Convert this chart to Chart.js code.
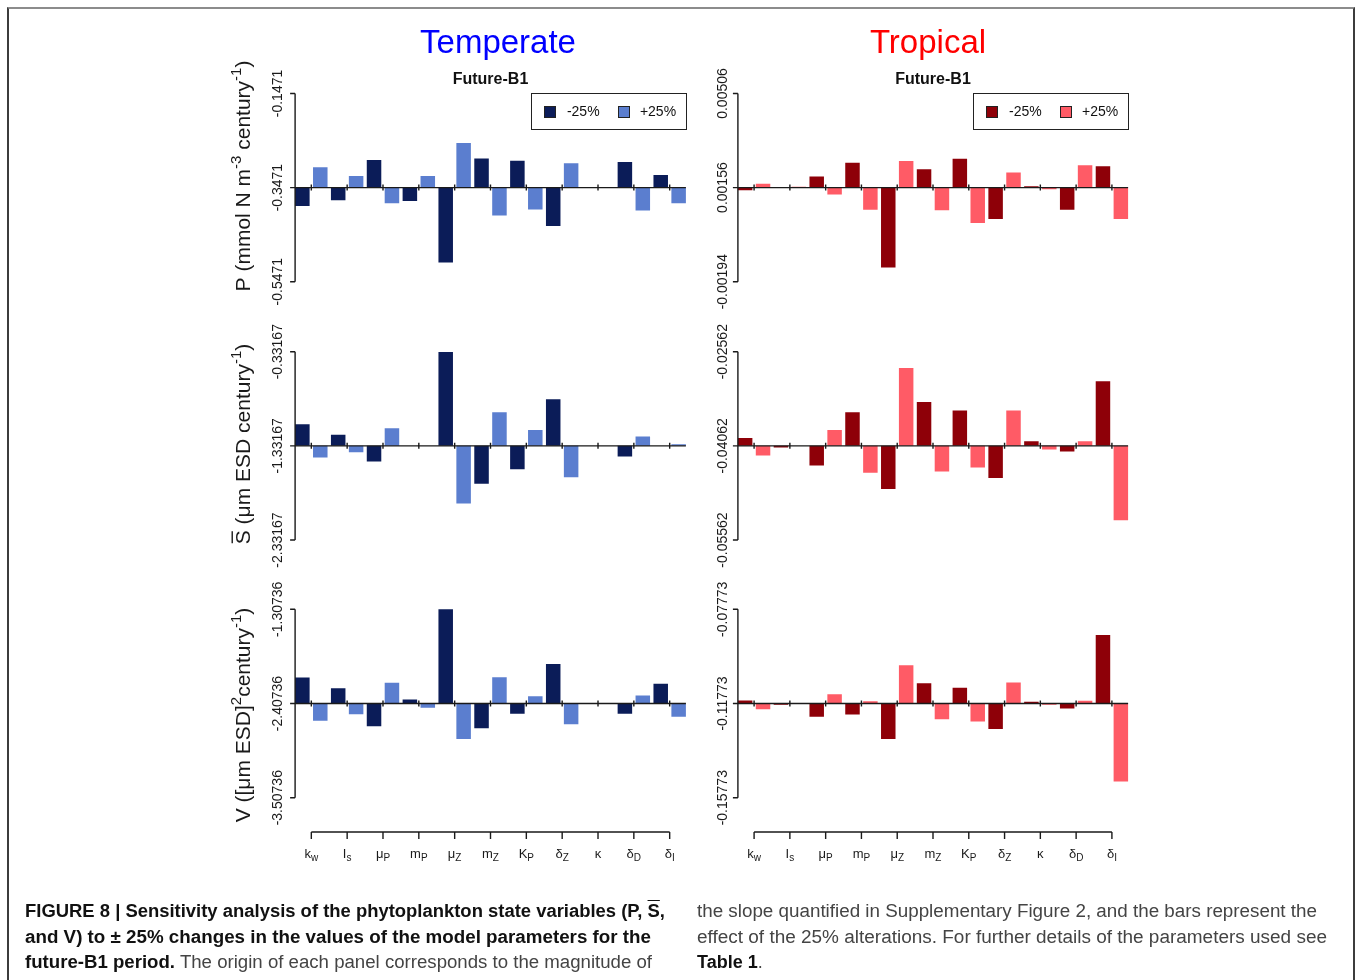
<!DOCTYPE html>
<html>
<head>
<meta charset="utf-8">
<script src="https://cdn.jsdelivr.net/npm/chart.js@4.4.1/dist/chart.umd.min.js"></script>
<style>
html,body{margin:0;padding:0;background:#fff;}
body{width:1357px;height:980px;position:relative;overflow:hidden;font-family:"Liberation Sans",Arial,sans-serif;}
#frame{position:absolute;left:7px;top:7px;width:1344px;height:1000px;border-top:2px solid #8c8c8c;border-left:2px solid #3c3c3c;border-right:2px solid #3c3c3c;}
canvas{position:absolute;left:0;top:0;}
.cap{position:absolute;white-space:nowrap;font-size:18px;line-height:22px;color:#444;transform-origin:0 0;}
.cap b{color:#111;font-family:"Liberation Sans Narrow","Liberation Sans",Arial,sans-serif;}
.ov{text-decoration:overline;}
</style>
</head>
<body>
<div id="frame"></div>
<canvas id="c_tl" width="1357" height="980"></canvas>
<canvas id="c_tr" width="1357" height="980"></canvas>
<canvas id="c_ml" width="1357" height="980"></canvas>
<canvas id="c_mr" width="1357" height="980"></canvas>
<canvas id="c_bl" width="1357" height="980"></canvas>
<canvas id="c_br" width="1357" height="980"></canvas>

<div class="cap" style="left:25px;top:900px" data-w="640"><b>FIGURE 8 | Sensitivity analysis of the phytoplankton state variables (P, <span class="ov">S</span>,</b></div>
<div class="cap" style="left:25px;top:926px" data-w="626"><b>and V) to ± 25% changes in the values of the model parameters for the</b></div>
<div class="cap" style="left:25px;top:951px" data-w="627"><b>future-B1 period.</b> The origin of each panel corresponds to the magnitude of</div>
<div class="cap" style="left:697px;top:900px" data-w="620">the slope quantified in Supplementary Figure 2, and the bars represent the</div>
<div class="cap" style="left:697px;top:926px" data-w="630">effect of the 25% alterations. For further details of the parameters used see</div>
<div class="cap" style="left:697px;top:951px"><b style="font-family:'Liberation Sans',Arial,sans-serif">Table 1</b>.</div>

<script>
// ---------------- data ----------------
const categories = ['kw','Is','μP','mP','μZ','mZ','KP','δZ','κ','δD','δI'];
const labelMain  = ['k','I','μ','m','μ','m','K','δ','κ','δ','δ'];
const labelSub   = ['w','s','P','P','Z','Z','P','Z','','D','I'];
const seriesNames = ['-25%','+25%'];

// Temperate P
const tempP_ticks = ['-0.5471','-0.3471','-0.1471'];
const tempP_minus = [-0.386, -0.374, -0.2883, -0.3754, -0.5063, -0.2855, -0.2898, -0.4285, -0.3471, -0.2926, -0.3202];
const tempP_plus  = [-0.3039, -0.3223, -0.3804, -0.3223, -0.2522, -0.4065, -0.3938, -0.2954, -0.3471, -0.3959, -0.3804];

// Tropical P
const tropP_ticks = ['-0.00194','0.00156','0.00506'];
const tropP_minus = [0.00146, 0.00158, 0.00197, 0.00248, -0.00141, 0.00224, 0.00263, 0.00039, 0.00161, 0.00074, 0.00235];
const tropP_plus  = [0.0017, 0.00159, 0.0013, 0.00074, 0.00255, 0.00072, 0.00024, 0.00212, 0.0015, 0.00239, 0.00039];

// Temperate S
const tempS_ticks = ['-2.33167','-1.33167','-0.33167'];
const tempS_minus = [-1.102, -1.2151, -1.4978, -1.33167, -0.335, -1.7346, -1.5791, -0.8369, -1.33167, -1.4448, -1.33167];
const tempS_plus  = [-1.4554, -1.3988, -1.1444, -1.33167, -1.9431, -0.9747, -1.162, -1.6639, -1.33167, -1.2327, -1.314];

// Tropical S
const tropS_ticks = ['-0.05562','-0.04062','-0.02562'];
const tropS_minus = [-0.03935, -0.04089, -0.04375, -0.03527, -0.04751, -0.03362, -0.035, -0.04576, -0.03988, -0.04152, -0.03034];
const tropS_plus  = [-0.04216, -0.04062, -0.03808, -0.04491, -0.02822, -0.0447, -0.04407, -0.035, -0.0412, -0.03988, -0.05249];

// Temperate V
const tempV_ticks = ['-3.50736','-2.40736','-1.30736'];
const tempV_minus = [-2.1042, -2.2286, -2.6717, -2.3607, -1.2452, -2.695, -2.5279, -1.9448, -2.40736, -2.5279, -2.178];
const tempV_plus  = [-2.6095, -2.5318, -2.1664, -2.4579, -2.8233, -2.1003, -2.3219, -2.6484, -2.40736, -2.3141, -2.5629];

// Tropical V
const tropV_ticks = ['-0.15773','-0.11773','-0.07773'];
const tropV_minus = [-0.11646, -0.1183, -0.12338, -0.12239, -0.13285, -0.10911, -0.11109, -0.12861, -0.11702, -0.11985, -0.08861];
const tropV_plus  = [-0.12013, -0.11773, -0.11377, -0.11674, -0.10148, -0.12437, -0.12536, -0.10883, -0.1183, -0.1166, -0.1508];

// ---------------- styles / layout ----------------
const W = 1357, H = 980;
const BAR_PCT = 0.81;
const FONT = '"Liberation Sans", Arial, Helvetica, sans-serif';
const temperateColors = ['#0b1c58', '#5b7ecf'];
const tropicalColors  = ['#8e0008', '#ff5b66'];
const colLeft  = {l: 293.4, r: 687.6, labelOff: 13, titleX: 250, head: 'Temperate', headColor: '#0000ff', headX: 498};
const colRight = {l: 736.2, r: 1129.8, labelOff: 11, titleX: null, head: 'Tropical', headColor: '#ff0000', headX: 928};
const rowTop = {t: 93.5, b: 281.7, titleCY: 176};
const rowMid = {t: 351.7, b: 540, titleCY: 444};
const rowBot = {t: 609.3, b: 797.7, titleCY: 715};

const titleP = [{t:'P (mmol N m'},{t:'-3',sup:true},{t:' century'},{t:'-1',sup:true},{t:')'}];
const titleS = [{t:'S',over:true},{t:' (μm ESD century'},{t:'-1',sup:true},{t:')'}];
const titleV = [{t:'V ([μm ESD]'},{t:'2',sup:true},{t:'century'},{t:'-1',sup:true},{t:')'}];

function drawRich(ctx, parts, cx, cy, size) {
  ctx.save();
  ctx.translate(cx, cy);
  ctx.rotate(-Math.PI / 2);
  const fMain = size + 'px ' + FONT;
  const fSup = Math.round(size * 0.7) + 'px ' + FONT;
  let total = 0;
  parts.forEach(p => { ctx.font = p.sup ? fSup : fMain; p.w = ctx.measureText(p.t).width; total += p.w; });
  let xx = -total / 2;
  ctx.textAlign = 'left';
  ctx.textBaseline = 'alphabetic';
  parts.forEach(p => {
    ctx.font = p.sup ? fSup : fMain;
    ctx.fillText(p.t, xx, p.sup ? -size * 0.45 : 0);
    if (p.over) ctx.fillRect(xx + 1, -size * 0.88, p.w - 2, 1.4);
    xx += p.w;
  });
  ctx.restore();
}

function panelPlugin(cfg) {
  return {
    id: 'rpanel',
    afterDraw(chart) {
      const ctx = chart.ctx, ca = chart.chartArea;
      const x = chart.scales.x, y = chart.scales.y;
      const catW = (ca.right - ca.left) / categories.length;
      const slot = catW / 2, gap = slot * (1 - BAR_PCT);
      const axisX = ca.left + gap / 2, endX = ca.right - gap / 2;
      const tv = cfg.ticks.map(Number);
      ctx.save();
      ctx.strokeStyle = '#1a1a1a';
      ctx.fillStyle = '#1a1a1a';
      ctx.lineWidth = 1.4;
      // y axis
      ctx.beginPath();
      ctx.moveTo(axisX, y.getPixelForValue(tv[0]));
      ctx.lineTo(axisX, y.getPixelForValue(tv[2]));
      tv.forEach(v => { const py = y.getPixelForValue(v); ctx.moveTo(axisX - 5, py); ctx.lineTo(axisX, py); });
      ctx.stroke();
      ctx.font = '14px ' + FONT;
      ctx.textAlign = 'center';
      ctx.textBaseline = 'alphabetic';
      cfg.ticks.forEach((s, i) => {
        const py = y.getPixelForValue(tv[i]);
        ctx.save(); ctx.translate(axisX - cfg.col.labelOff, py); ctx.rotate(-Math.PI / 2);
        ctx.fillText(s, 0, 0); ctx.restore();
      });
      // origin line with ticks
      const y0 = y.getPixelForValue(tv[1]);
      ctx.beginPath();
      ctx.moveTo(axisX, y0); ctx.lineTo(endX, y0);
      categories.forEach((c, i) => { const px = x.getPixelForValue(i); ctx.moveTo(px, y0 - 3); ctx.lineTo(px, y0 + 3); });
      ctx.stroke();
      // y title
      if (cfg.col.titleX !== null && cfg.title) drawRich(ctx, cfg.title, cfg.col.titleX, cfg.row.titleCY, 21);
      // top row extras
      if (cfg.top) {
        ctx.textAlign = 'center';
        ctx.font = '33px ' + FONT;
        ctx.fillStyle = cfg.col.headColor;
        ctx.fillText(cfg.col.head, cfg.col.headX, 53);
        ctx.fillStyle = '#111';
        ctx.font = 'bold 16px ' + FONT;
        ctx.fillText('Future-B1', (axisX + endX) / 2, 84);
        // legend
        const bx = endX - 155, by = ca.top - 0.5, bw = 155, bh = 36;
        ctx.lineWidth = 1;
        ctx.strokeStyle = '#222';
        ctx.strokeRect(Math.round(bx) + 0.5, Math.round(by) + 0.5, bw, bh);
        const sx = [13, 87], tx = [36, 109];
        chart.data.datasets.forEach((ds, i) => {
          ctx.fillStyle = ds.backgroundColor;
          ctx.fillRect(Math.round(bx + sx[i]) + 0.5, Math.round(by + 13) + 0.5, 11, 11);
          ctx.strokeRect(Math.round(bx + sx[i]) + 0.5, Math.round(by + 13) + 0.5, 11, 11);
          ctx.fillStyle = '#111';
          ctx.font = '14px ' + FONT;
          ctx.textAlign = 'left';
          ctx.textBaseline = 'middle';
          ctx.fillText(ds.label, bx + tx[i], by + 19);
        });
        ctx.textBaseline = 'alphabetic';
      }
      // bottom x axis
      if (cfg.bottom) {
        const ay = 832;
        ctx.strokeStyle = '#1a1a1a'; ctx.lineWidth = 1.4;
        ctx.beginPath();
        ctx.moveTo(x.getPixelForValue(0), ay); ctx.lineTo(x.getPixelForValue(categories.length - 1), ay);
        categories.forEach((c, i) => { const px = x.getPixelForValue(i); ctx.moveTo(px, ay); ctx.lineTo(px, ay + 7); });
        ctx.stroke();
        ctx.fillStyle = '#1a1a1a';
        ctx.textAlign = 'left';
        categories.forEach((c, i) => {
          const px = x.getPixelForValue(i);
          ctx.font = '13px ' + FONT; const w1 = ctx.measureText(labelMain[i]).width;
          ctx.font = '10px ' + FONT; const w2 = ctx.measureText(labelSub[i]).width;
          const sx0 = px - (w1 + w2) / 2;
          ctx.font = '13px ' + FONT; ctx.fillText(labelMain[i], sx0, 858);
          ctx.font = '10px ' + FONT; ctx.fillText(labelSub[i], sx0 + w1, 861);
        });
      }
      ctx.restore();
    }
  };
}

function makePanel(id, col, row, ticks, minus, plus, colors, title, top, bottom) {
  const base = Number(ticks[1]);
  new Chart(document.getElementById(id), {
    type: 'bar',
    data: {
      labels: categories,
      datasets: [
        {label: seriesNames[0], data: minus, backgroundColor: colors[0], base: base, barPercentage: BAR_PCT, categoryPercentage: 1, borderWidth: 0},
        {label: seriesNames[1], data: plus, backgroundColor: colors[1], base: base, barPercentage: BAR_PCT, categoryPercentage: 1, borderWidth: 0}
      ]
    },
    options: {
      responsive: false,
      animation: false,
      events: [],
      layout: {padding: {left: col.l, right: W - col.r, top: row.t, bottom: H - row.b}},
      plugins: {legend: {display: false}, tooltip: {enabled: false}, title: {display: false}},
      scales: {
        x: {type: 'category', display: false, offset: true},
        y: {type: 'linear', display: false, min: Number(ticks[0]), max: Number(ticks[2])}
      }
    },
    plugins: [panelPlugin({col, row, ticks, title, top, bottom})]
  });
}

makePanel('c_tl', colLeft,  rowTop, tempP_ticks, tempP_minus, tempP_plus, temperateColors, titleP, true, false);
makePanel('c_tr', colRight, rowTop, tropP_ticks, tropP_minus, tropP_plus, tropicalColors, null, true, false);
makePanel('c_ml', colLeft,  rowMid, tempS_ticks, tempS_minus, tempS_plus, temperateColors, titleS, false, false);
makePanel('c_mr', colRight, rowMid, tropS_ticks, tropS_minus, tropS_plus, tropicalColors, null, false, false);
makePanel('c_bl', colLeft,  rowBot, tempV_ticks, tempV_minus, tempV_plus, temperateColors, titleV, false, true);
makePanel('c_br', colRight, rowBot, tropV_ticks, tropV_minus, tropV_plus, tropicalColors, null, false, true);

// fit caption lines to their measured widths
document.querySelectorAll('.cap[data-w]').forEach(el => {
  const w = el.getBoundingClientRect().width;
  const target = Number(el.dataset.w);
  if (w > 0) el.style.transform = 'scaleX(' + (target / w).toFixed(4) + ')';
});
</script>
</body>
</html>
